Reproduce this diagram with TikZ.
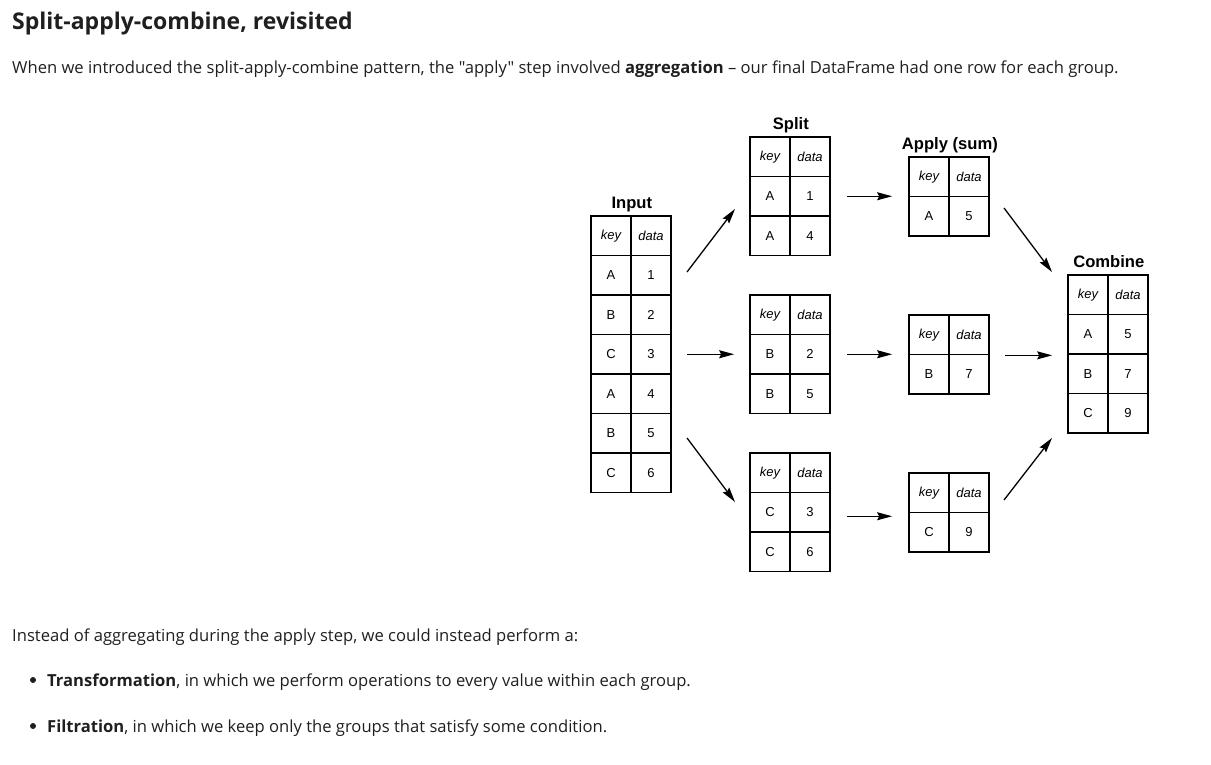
\documentclass[tikz,border=0pt]{standalone}
\usepackage{fontspec}
\setmainfont{Open Sans}[Ligatures=TeXOff]
\newfontfamily\arialf{Liberation Sans}
\usetikzlibrary{arrows.meta,calc}
\newcommand\gtab[4]{%
  \node[hd] (#1-hk) at ({#2+20},{#3+19.75}) {key};
  \node[hd] (#1-hd) at ({#2+60},{#3+19.75}) {data};
  \foreach[count=\i] \k/\d in {#4} {
    \node[cell] (#1-k\i) at ({#2+20},{#3+19.75+39.5*\i}) {\k};
    \node[cell] (#1-d\i) at ({#2+60},{#3+19.75+39.5*\i}) {\d};
  }
}
\begin{document}
\begin{tikzpicture}[x=1pt,y=-1pt,
  cell/.style={draw, line width=1.7pt, minimum width=40pt, minimum height=39.5pt, inner sep=0pt,
    font=\arialf\fontsize{13}{13}\selectfont},
  hd/.style={cell, font=\arialf\itshape\fontsize{13}{13}\selectfont},
  ttl/.style={font=\arialf\bfseries\fontsize{16.6}{17}\selectfont, anchor=base, inner sep=0pt},
  arr/.style={-{Stealth[length=15pt,width=8pt,inset=2pt]}, line width=1.3pt},
  body/.style={anchor=base west, inner sep=0pt, font=\fontsize{16.6}{19}\selectfont, text=black!88},
  head/.style={anchor=base west, inner sep=0pt, font=\bfseries\fontsize{23}{26}\selectfont, text=black!88}]
\useasboundingbox (0,0) rectangle (1211,764);
% text
\node[head] (title) at (12,29) {Split-apply-combine, revisited};
\node[body] (p1) at (12,73) {When we introduced the split-apply-combine pattern, the "apply" step involved \textbf{aggregation} – our final DataFrame had one row for each group.};
\node[body] (p2) at (12,641) {Instead of aggregating during the apply step, we could instead perform a:};
\node[body] (b1) at (47,686) {\textbf{Transformation}, in which we perform operations to every value within each group.};
\node[body] (b2) at (47,732) {\textbf{Filtration}, in which we keep only the groups that satisfy some condition.};
\fill[black!88] (33,680) circle (3pt);
\fill[black!88] (33,726) circle (3pt);
% tables
\gtab{in}{591}{216}{A/1,B/2,C/3,A/4,B/5,C/6}
\gtab{sa}{750}{137}{A/1,A/4}
\gtab{sb}{750}{295}{B/2,B/5}
\gtab{sc}{750}{453}{C/3,C/6}
\gtab{aa}{909}{157}{A/5}
\gtab{ab}{909}{315}{B/7}
\gtab{ac}{909}{473}{C/9}
\gtab{co}{1068}{275}{A/5,B/7,C/9}
% titles
\node[ttl] (tin) at ($(in-hk.north east)+(0,-7)$) {Input};
\node[ttl] (tsp) at ($(sa-hk.north east)+(0,-7)$) {Split};
\node[ttl] (tap) at ($(aa-hk.north east)+(0,-7)$) {Apply (sum)};
\node[ttl] (tco) at ($(co-hk.north east)+(0,-7)$) {Combine};
% arrows
\coordinate (s1) at (687,272); \coordinate (e1) at (735,209);
\coordinate (s3) at (687,438); \coordinate (e3) at (735,502);
\coordinate (s4) at (1004,208); \coordinate (e4) at (1052,272);
\coordinate (s6) at (1004,500); \coordinate (e6) at (1052,438);
\draw[arr] (s1) -- (e1);
\draw[arr] (s3) -- (e3);
\draw[arr] (s4) -- (e4);
\draw[arr] (s6) -- (e6);
\draw[arr, shorten <=15pt, shorten >=15pt] (in-d3.east) -- (sb-k1.west);
\draw[arr, shorten <=16pt, shorten >=16pt] (sa-d1.east) -- (sa-d1.east -| aa-k1.west);
\draw[arr, shorten <=16pt, shorten >=16pt] (sb-d1.east) -- (sb-d1.east -| ab-k1.west);
\draw[arr, shorten <=16pt, shorten >=16pt] ([yshift=-4pt]sc-d1.east) -- ([yshift=-4pt]sc-d1.east -| ac-k1.west);
\draw[arr, shorten <=15pt, shorten >=15pt] (ab-hd.south east) -- (ab-hd.south east -| co-k2.west);
\end{tikzpicture}
\end{document}
